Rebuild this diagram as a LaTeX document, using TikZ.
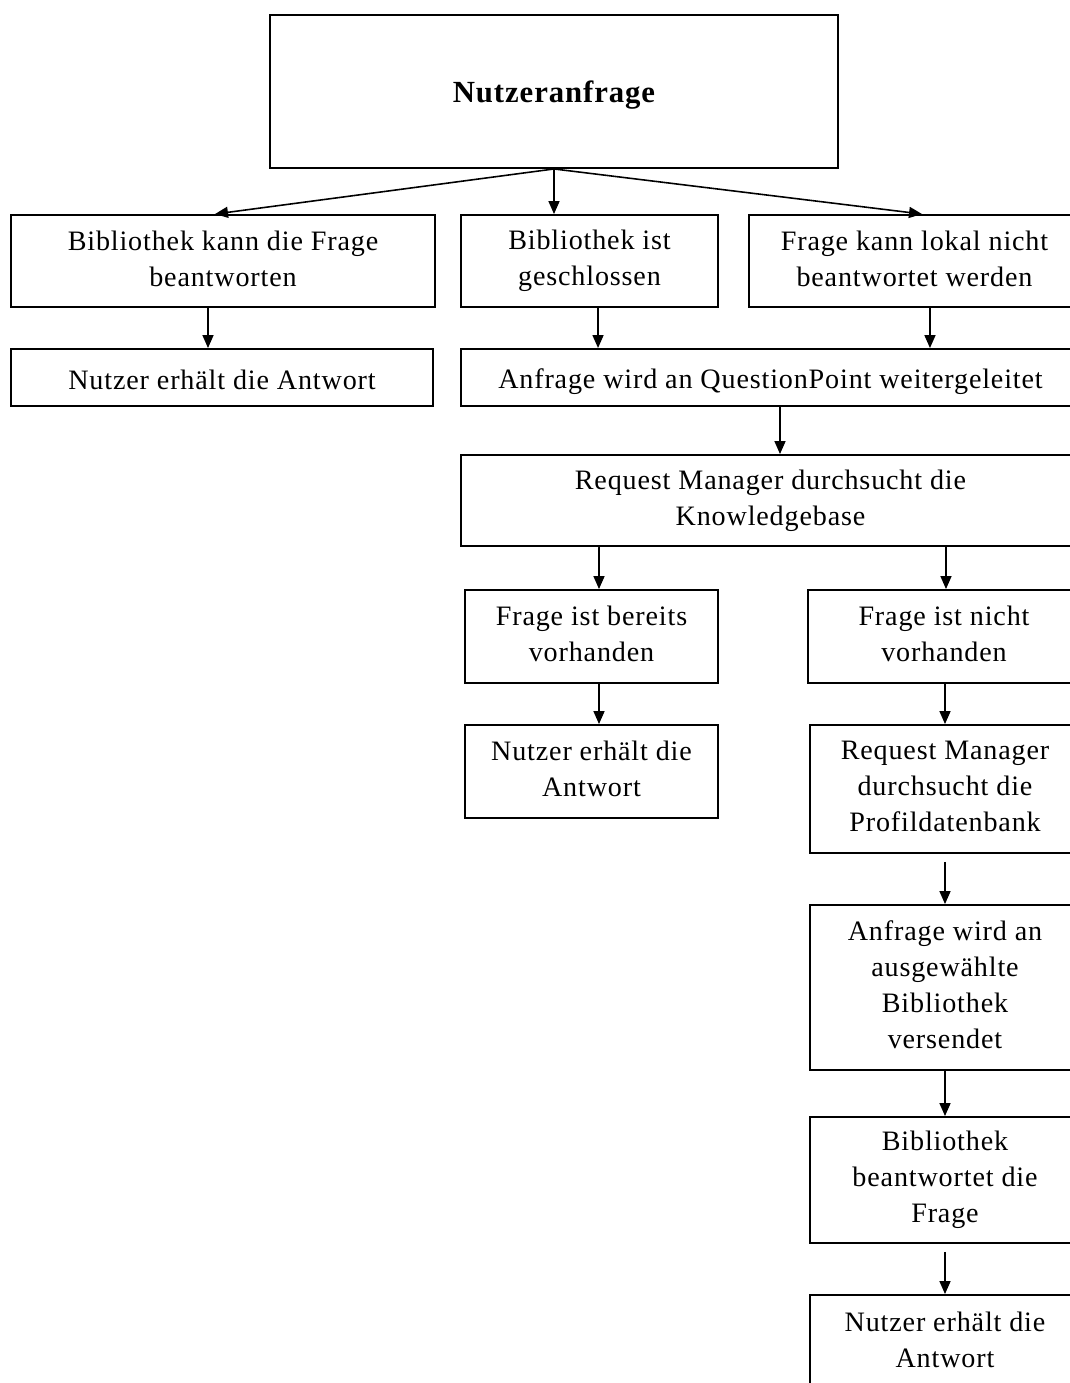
\documentclass[tikz,border=0pt]{standalone}
\usepackage{fontspec}
\setmainfont[LetterSpace=3]{Liberation Serif}
\usepackage{tikz}
\usetikzlibrary{arrows.meta, positioning}

\newcommand{\boxstrut}{\rule[-2.8pt]{0pt}{18.8pt}}

\tikzset{
    box/.style={draw, line width=1.1pt, inner sep=0pt, align=center,
        font=\fontsize{16}{20.5}\selectfont,
        execute at begin node=\boxstrut, execute at end node=\boxstrut},
    arr/.style={-{Triangle[length=0.26cm, width=0.22cm]}, line width=0.9pt},
}

\begin{document}
\begin{tikzpicture}[x=0.02cm, y=-0.02cm]
    % Page frame
    \clip (0,0) rectangle (1070,1383);
    \fill[white] (0,0) rectangle (1070,1383);

    % Top request
    \node[box, minimum width=11.36cm, minimum height=3.06cm,
        font=\fontsize{17.5}{20}\selectfont\bfseries] (anfrage) at (554,91.5) {Nutzeranfrage};

    % First level
    \node[box, minimum width=8.48cm, minimum height=1.84cm] (kann) at (223,261)
        {Bibliothek kann die Frage\\beantworten};
    \node[box, minimum width=5.14cm, minimum height=1.84cm] (geschl) at (589.5,261)
        {Bibliothek ist\\geschlossen};
    \node[box, minimum width=6.62cm, minimum height=1.84cm] (lokal) at (914.5,261)
        {Frage kann lokal nicht\\beantwortet werden};

    % Second level
    \node[box, minimum width=8.44cm, minimum height=1.14cm] (antwortA) at (222,377.5)
        {Nutzer erhält die Antwort};
    \node[box, minimum width=12.38cm, minimum height=1.14cm] (weiter) at (770.5,377.5)
        {Anfrage wird an QuestionPoint weitergeleitet};

    % Knowledgebase
    \node[box, minimum width=12.38cm, minimum height=1.82cm] (knowledge) at (770.5,500.5)
        {Request Manager durchsucht die\\Knowledgebase};

    \node[box, minimum width=5.06cm, minimum height=1.86cm] (bereits) at (591.5,636.5)
        {Frage ist bereits\\vorhanden};
    \node[box, minimum width=5.44cm, minimum height=1.86cm] (nicht) at (944,636.5)
        {Frage ist nicht\\vorhanden};

    \node[box, minimum width=5.06cm, minimum height=1.86cm] (antwortB) at (591.5,771.5)
        {Nutzer erhält die\\Antwort};
    \node[box, minimum width=5.40cm, minimum height=2.56cm] (profil) at (945,789)
        {Request Manager\\durchsucht die\\Profildatenbank};

    \node[box, minimum width=5.40cm, minimum height=3.30cm] (versand) at (945,987.5)
        {Anfrage wird an\\ausgewählte\\Bibliothek\\versendet};
    \node[box, minimum width=5.40cm, minimum height=2.52cm] (beantw) at (945,1180)
        {Bibliothek\\beantwortet die\\Frage};
    \node[box, minimum width=5.40cm, minimum height=1.90cm] (antwortC) at (945,1342.5)
        {Nutzer erhält die\\Antwort};

    % Arrows
    \draw[arr] (anfrage.south) -- ([xshift=-0.16cm]kann.north);
    \draw[arr] (anfrage.south) -- (anfrage.south |- geschl.north);
    \draw[arr] (anfrage.south) -- ([xshift=0.15cm]lokal.north);

    \draw[arr] ([xshift=-0.3cm]kann.south) -- ([xshift=-0.28cm]antwortA.north);
    \draw[arr] ([xshift=0.17cm]geschl.south) -- ([xshift=-3.45cm]weiter.north);
    \draw[arr] ([xshift=0.31cm]lokal.south) -- ([xshift=3.19cm]weiter.north);
    \draw[arr] ([xshift=0.19cm]weiter.south) -- ([xshift=0.19cm]knowledge.north);

    \draw[arr] ([xshift=-3.43cm]knowledge.south) -- ([xshift=0.15cm]bereits.north);
    \draw[arr] ([xshift=3.51cm]knowledge.south) -- ([xshift=0.04cm]nicht.north);
    \draw[arr] ([xshift=0.15cm]bereits.south) -- ([xshift=0.15cm]antwortB.north);
    \draw[arr] ([xshift=0.02cm]nicht.south) -- (profil.north);

    \draw[arr, shorten <=0.16cm] (profil.south) -- (versand.north);
    \draw[arr] (versand.south) -- (beantw.north);
    \draw[arr, shorten <=0.16cm] (beantw.south) -- (antwortC.north);
\end{tikzpicture}
\end{document}
